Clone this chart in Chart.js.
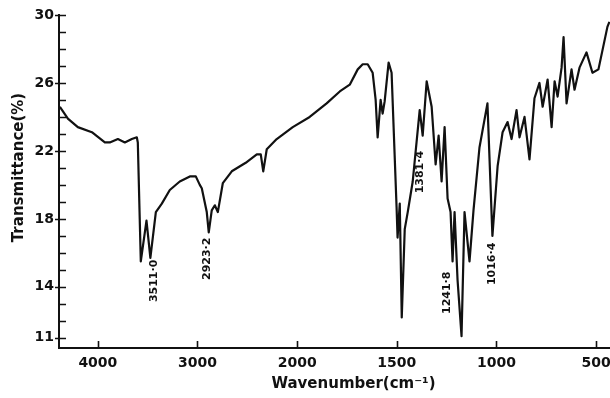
<!DOCTYPE html>
<html>
<head>
  <title>IR Spectrum</title>
  <script src="https://cdn.jsdelivr.net/npm/chart.js"></script>
  <style>
    html, body { margin: 0; padding: 0; background: #fff; }
    #wrap { width: 610px; height: 398px; position: relative; }
  </style>
</head>
<body>
  <div id="wrap"><canvas id="irChart"></canvas></div>
  <script>
    // spectrum: wavenumber (cm-1) and transmittance (%)
    const wavenumbers = [4381, 4301, 4201, 4060, 3930, 3880, 3799, 3729, 3659, 3609, 3599, 3569, 3512, 3473, 3418, 3358,
      3278, 3178, 3077, 3017, 2977, 2957, 2907, 2887, 2857, 2826, 2796, 2746, 2656, 2516, 2405, 2365, 2340, 2305, 2205,
      2044, 1937, 1852, 1786, 1736, 1696, 1671, 1646, 1621, 1606, 1596, 1581, 1571, 1561, 1541, 1526, 1501, 1496, 1485,
      1475, 1460, 1445, 1420, 1385, 1370, 1350, 1325, 1305, 1290, 1275, 1260, 1245, 1230, 1220, 1210, 1195, 1175, 1160,
      1135, 1115, 1085, 1045, 1020, 994, 969, 944, 924, 899, 884, 859, 834, 809, 784, 768, 743, 723, 708, 693, 673, 663,
      648, 623, 608, 583, 548, 518, 488, 443, 433];
    const transmittance = [24.6, 23.9, 23.4, 23.1, 22.5, 22.5, 22.7, 22.5, 22.7, 22.8, 22.5, 15.5, 17.9, 15.7, 18.4, 18.9,
      19.7, 20.2, 20.5, 20.5, 20.0, 19.8, 18.4, 17.2, 18.5, 18.8, 18.4, 20.1, 20.8, 21.3, 21.8, 21.8, 20.8, 22.1, 22.7,
      23.4, 24.0, 24.8, 25.5, 25.9, 26.8, 27.1, 27.1, 26.6, 25.0, 22.8, 25.0, 24.2, 24.9, 27.2, 26.6, 18.7, 16.9, 18.9,
      12.2, 17.4, 18.4, 20.2, 24.4, 22.9, 26.1, 24.6, 21.2, 22.9, 20.2, 23.4, 19.2, 18.4, 15.5, 18.4, 14.4, 11.1, 18.4,
      15.5, 18.5, 22.2, 24.8, 17.0, 21.1, 23.1, 23.7, 22.7, 24.4, 22.8, 24.0, 21.5, 25.1, 26.0, 24.6, 26.2, 23.4, 26.1,
      25.2, 26.9, 28.7, 24.8, 26.8, 25.6, 26.9, 27.8, 26.6, 26.8, 29.3, 29.6];

    const xTickWn = [4000, 3000, 2000, 1500, 1000, 500];
    const yTicks = [11, 12, 13, 14, 15, 16, 17, 18, 19, 20, 21, 22, 23, 24, 25, 26, 27, 28, 29, 30];
    const yTickLabels = [30, 26, 22, 18, 14, 11];

    // band labels written along the peaks
    const peakLabels = ['3511·0', '2923·2', '1381·4', '1241·8', '1016·4'];
    const peakWn = [3438, 2902, 1385, 1245, 1020];
    const peakT = [15.6, 16.9, 22.0, 14.9, 16.6];

    // chart paper doubles its scale below 2000 cm-1
    function toPos(wn) {
      return wn >= 2000 ? (4000 - wn) / 1000 : 2 + (2000 - wn) / 500;
    }

    const ink = '#111';
    const fontFamily = '"DejaVu Sans", sans-serif';

    // inward tick marks, rotated peak labels and the two axis titles
    const paperMarks = {
      id: 'paperMarks',
      afterDraw(chart) {
        const ctx = chart.ctx;
        const xs = chart.scales.x, ys = chart.scales.y;
        const area = chart.chartArea;
        ctx.save();
        ctx.strokeStyle = ink;
        ctx.lineWidth = 1.6;
        ctx.beginPath();
        yTicks.forEach(v => {
          const y = Math.round(ys.getPixelForValue(v)) + 0.5;
          const major = yTickLabels.includes(v);
          ctx.moveTo(area.left - (major ? 4 : 0), y);
          ctx.lineTo(area.left + 7, y);
        });
        xTickWn.forEach(wn => {
          const x = Math.round(xs.getPixelForValue(toPos(wn))) + 0.5;
          ctx.moveTo(x, area.bottom);
          ctx.lineTo(x, area.bottom - 7);
        });
        ctx.stroke();

        ctx.fillStyle = ink;
        ctx.font = 'bold 11px ' + fontFamily;
        ctx.textAlign = 'right';
        ctx.textBaseline = 'middle';
        peakLabels.forEach((txt, i) => {
          const x = xs.getPixelForValue(toPos(peakWn[i]));
          const y = ys.getPixelForValue(peakT[i]);
          ctx.save();
          ctx.translate(x, y);
          ctx.rotate(-Math.PI / 2);
          ctx.fillText(txt, 0, 0);
          ctx.restore();
        });

        // titles sit a little off-centre on the original sheet
        ctx.font = 'bold 15px ' + fontFamily;
        ctx.textAlign = 'center';
        ctx.fillText('Wavenumber(cm⁻¹)', (area.left + area.right) / 2 + 19, area.bottom + 36);
        ctx.save();
        ctx.translate(19, (area.top + area.bottom) / 2 - 14);
        ctx.rotate(-Math.PI / 2);
        ctx.fillText('Transmittance(%)', 0, 0);
        ctx.restore();
        ctx.restore();
      }
    };

    new Chart(document.getElementById('irChart'), {
      type: 'line',
      data: {
        datasets: [{
          data: wavenumbers.map((wn, i) => ({ x: toPos(wn), y: transmittance[i] })),
          borderColor: ink,
          borderWidth: 2.2,
          borderJoinStyle: 'round',
          pointRadius: 0,
          tension: 0,
          fill: false
        }]
      },
      options: {
        responsive: true,
        maintainAspectRatio: false,
        animation: false,
        layout: { padding: { top: 15, right: 0, bottom: 0, left: 0 } },
        plugins: {
          legend: { display: false },
          tooltip: { enabled: false }
        },
        scales: {
          x: {
            type: 'linear',
            min: toPos(4390),
            max: toPos(430),
            afterBuildTicks: s => { s.ticks = xTickWn.map(wn => ({ value: toPos(wn) })); },
            afterFit: s => { s.height = 50; s.paddingLeft = 0; s.paddingRight = 0; },
            ticks: {
              callback: (v, i) => xTickWn[i],
              autoSkip: false,
              maxRotation: 0,
              padding: 7,
              color: ink,
              font: { family: fontFamily, size: 14, weight: 'bold' }
            },
            grid: { drawOnChartArea: false, drawTicks: false },
            border: { display: true, color: ink, width: 2 }
          },
          y: {
            min: 10.4,
            max: 30,
            afterBuildTicks: s => { s.ticks = yTicks.map(v => ({ value: v })); },
            afterFit: s => { s.width = 59; s.paddingTop = 0; s.paddingBottom = 0; },
            ticks: {
              callback: v => yTickLabels.includes(v) ? v : '',
              autoSkip: false,
              padding: 5,
              color: ink,
              font: { family: fontFamily, size: 14, weight: 'bold' }
            },
            grid: { drawOnChartArea: false, drawTicks: false },
            border: { display: true, color: ink, width: 2 }
          }
        }
      },
      plugins: [paperMarks]
    });
  </script>
</body>
</html>
